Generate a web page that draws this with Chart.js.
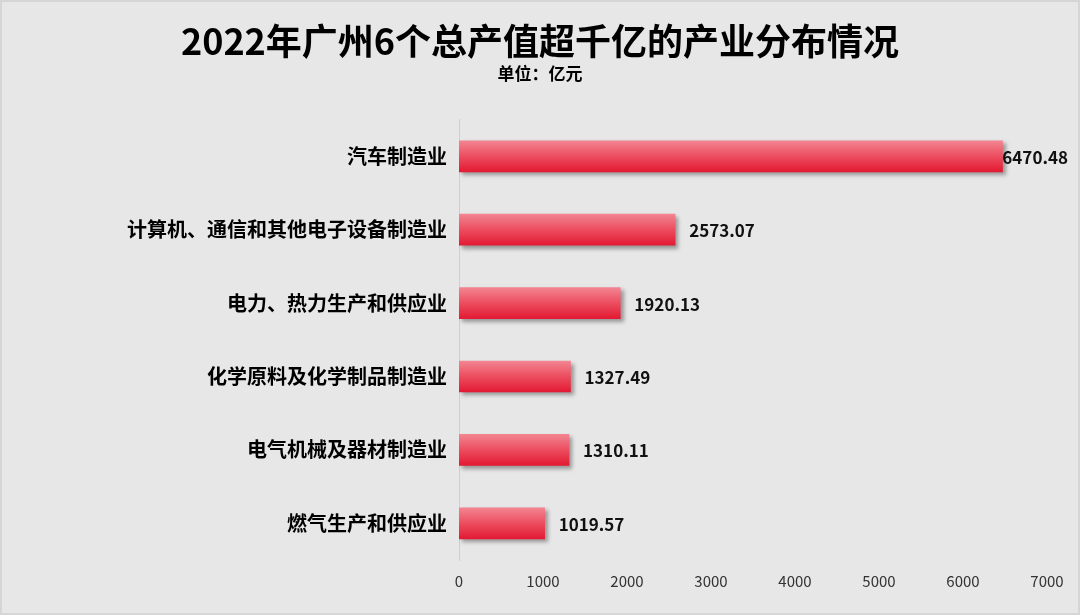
<!DOCTYPE html>
<html lang="zh-CN">
<head>
<meta charset="utf-8">
<title>2022年广州6个总产值超千亿的产业分布情况</title>
<script src="https://cdn.jsdelivr.net/npm/chart.js@4.4.1/dist/chart.umd.min.js"></script>
<style>
  html, body { margin: 0; padding: 0; background: #e7e7e7; }
  #wrap { width: 1080px; height: 615px; position: relative; }
</style>
</head>
<body>
<div id="wrap"><canvas id="chart"></canvas></div>
<script>
const FONT = "'Noto Sans CJK SC', 'Noto Sans', sans-serif";

const categories = [
  "汽车制造业",
  "计算机、通信和其他电子设备制造业",
  "电力、热力生产和供应业",
  "化学原料及化学制品制造业",
  "电气机械及器材制造业",
  "燃气生产和供应业"
];
const values = [6470.48, 2573.07, 1920.13, 1327.49, 1310.11, 1019.57];
const xTicks = [0, 1000, 2000, 3000, 4000, 5000, 6000, 7000];

const BAR_THICKNESS = 31;
const SIDE_PAD = 33;

// vertical light-to-red gradient per bar, set right before drawing
const gradientPlugin = {
  id: "barGradient",
  beforeDatasetsDraw(chart) {
    const ctx = chart.ctx;
    chart.getDatasetMeta(0).data.forEach((bar) => {
      const top = bar.y - BAR_THICKNESS / 2;
      if (!Number.isFinite(top)) return;
      const g = ctx.createLinearGradient(0, top, 0, top + BAR_THICKNESS);
      g.addColorStop(0, "#f28591");
      g.addColorStop(0.5, "#ec4d5f");
      g.addColorStop(1, "#e31a33");
      bar.options.backgroundColor = g;
    });
  }
};

const backgroundPlugin = {
  id: "background",
  beforeDraw(chart) {
    const { ctx, width, height } = chart;
    ctx.save();
    ctx.fillStyle = "#e7e7e7";
    ctx.fillRect(0, 0, width, height);
    ctx.strokeStyle = "#d6d6d6";
    ctx.lineWidth = 4;
    ctx.strokeRect(0, 0, width, height);
    ctx.restore();
  }
};

const shadowPlugin = {
  id: "barShadow",
  beforeDatasetsDraw(chart) {
    const ctx = chart.ctx;
    ctx.save();
    ctx.shadowColor = "rgba(0,0,0,0.35)";
    ctx.shadowBlur = 4;
    ctx.shadowOffsetX = 3;
    ctx.shadowOffsetY = 3;
  },
  afterDatasetsDraw(chart) {
    chart.ctx.restore();
  }
};

// labels sit past the bar end, pulled back in when they would leave the canvas
const valueLabelPlugin = {
  id: "valueLabels",
  afterDatasetsDraw(chart) {
    const ctx = chart.ctx;
    const meta = chart.getDatasetMeta(0);
    ctx.save();
    ctx.fillStyle = "#111";
    ctx.font = `bold 17px ${FONT}`;
    ctx.textAlign = "left";
    ctx.textBaseline = "middle";
    meta.data.forEach((bar, i) => {
      const text = values[i].toFixed(2);
      const w = ctx.measureText(text).width;
      const x = Math.min(bar.x + 14, chart.width - 12 - w);
      ctx.fillText(text, x, bar.y + 1);
    });
    ctx.restore();
  }
};

new Chart(document.getElementById("chart"), {
  type: "bar",
  data: {
    labels: categories,
    datasets: [
      {
        data: values,
        // scriptable so every bar keeps its own options object
        backgroundColor: () => "#e8253c",
        borderWidth: 0,
        barThickness: BAR_THICKNESS
      }
    ]
  },
  options: {
    indexAxis: "y",
    responsive: true,
    maintainAspectRatio: false,
    animation: false,
    layout: { padding: { left: SIDE_PAD, right: SIDE_PAD, top: 0, bottom: 0 } },
    plugins: {
      legend: { display: false },
      tooltip: { enabled: false },
      title: {
        display: true,
        text: "2022年广州6个总产值超千亿的产业分布情况",
        color: "#000",
        font: { family: FONT, size: 36, weight: "bold" },
        padding: { top: 20, bottom: 0 }
      },
      subtitle: {
        display: true,
        text: "单位：亿元",
        color: "#000",
        font: { family: FONT, size: 17, weight: "bold" },
        padding: { top: 0, bottom: 36 }
      }
    },
    scales: {
      x: {
        min: 0,
        max: 7000,
        afterBuildTicks(scale) {
          scale.ticks = xTicks.map((v) => ({ value: v }));
        },
        afterFit(scale) {
          scale.height = 55;
        },
        grid: { display: false, drawTicks: false },
        border: { display: false },
        ticks: {
          color: "#333",
          padding: 12,
          maxRotation: 0,
          callback: (v) => String(v),
          font: { family: FONT, size: 15 }
        }
      },
      y: {
        afterFit(scale) {
          scale.width = 459 - SIDE_PAD;
        },
        grid: { display: false, drawTicks: false },
        border: { display: true, color: "#cfcfcf", width: 1 },
        ticks: {
          color: "#000",
          padding: 12,
          font: { family: FONT, size: 20, weight: "bold" }
        }
      }
    }
  },
  plugins: [backgroundPlugin, gradientPlugin, shadowPlugin, valueLabelPlugin]
});
</script>
</body>
</html>
